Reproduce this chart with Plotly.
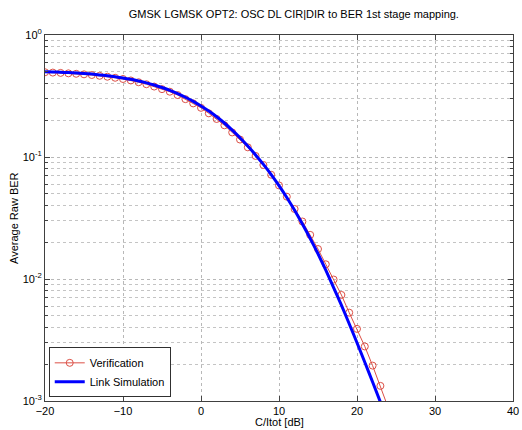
import plotly.graph_objects as go

# Verification data (C/Itot in dB, average raw BER)
ver_x = list(range(-20, 25))
ver_ber = [0.495, 0.492, 0.489, 0.485, 0.481, 0.476, 0.470, 0.463, 0.455, 0.446,
           0.436, 0.424, 0.410, 0.395, 0.378, 0.360, 0.343, 0.322, 0.298, 0.275,
           0.253, 0.228, 0.205, 0.182, 0.159, 0.139, 0.120, 0.102, 0.0860, 0.0715,
           0.0585, 0.0473, 0.0375, 0.0296, 0.0230, 0.0176, 0.0132, 0.0099, 0.0074, 0.0053,
           0.0039, 0.0028, 0.00195, 0.00133, 0.00088]

# Link simulation data
sim_x = list(range(-20, 24))
sim_ber = [0.500, 0.498, 0.495, 0.492, 0.488, 0.484, 0.478, 0.471, 0.463, 0.454,
           0.444, 0.433, 0.420, 0.405, 0.389, 0.371, 0.352, 0.331, 0.309, 0.286,
           0.262, 0.238, 0.214, 0.190, 0.166, 0.144, 0.123, 0.104, 0.0870, 0.0718,
           0.0583, 0.0466, 0.0366, 0.0282, 0.0215, 0.0161, 0.0118, 0.0085, 0.0061, 0.0043,
           0.0030, 0.00208, 0.00143, 0.00098]

x_ticks = [-20, -10, 0, 10, 20, 30, 40]
y_ticks = [1, 0.1, 0.01, 0.001]
y_tick_text = ["10<sup>0</sup>", "10<sup>-1</sup>", "10<sup>-2</sup>", "10<sup>-3</sup>"]
y_minor = [m * 10.0 ** e for e in (-3, -2, -1) for m in range(2, 10)]

fig = go.Figure()
fig.add_trace(go.Scatter(
    x=ver_x, y=ver_ber, name="Verification", mode="lines+markers",
    line=dict(color="rgb(220,80,70)", width=1),
    marker=dict(symbol="circle-open", size=7, color="rgb(220,80,70)", line=dict(width=1)),
))
fig.add_trace(go.Scatter(
    x=sim_x, y=sim_ber, name="Link Simulation", mode="lines",
    line=dict(color="#0000ff", width=3, shape="spline", smoothing=0.6),
))

font_family = "Liberation Sans, Arial, sans-serif"
fig.update_layout(
    width=522, height=430,
    margin=dict(l=45, r=9, t=35, b=29),
    paper_bgcolor="white", plot_bgcolor="white",
    font=dict(family=font_family, size=11, color="black"),
    title=dict(text="GMSK LGMSK OPT2: OSC DL CIR|DIR to BER 1st stage mapping.",
               x=0.563, xanchor="center", y=0.975, yanchor="top",
               font=dict(size=11)),
    showlegend=True,
    legend=dict(x=0.008, y=0.01, xanchor="left", yanchor="bottom",
                bgcolor="white", bordercolor="#303030", borderwidth=1,
                font=dict(size=11), tracegroupgap=0, itemwidth=30),
    annotations=[
        dict(text="C/Itot [dB]", xref="paper", yref="paper", x=0.5, y=0,
             xanchor="center", yanchor="middle", yshift=-21, showarrow=False,
             font=dict(size=11)),
        dict(text="Average Raw BER", xref="paper", yref="paper", x=0, y=0.5,
             xanchor="center", yanchor="middle", xshift=-31, textangle=-90,
             showarrow=False, font=dict(size=11)),
    ],
)
fig.update_xaxes(
    range=[-20, 40], tickvals=x_ticks, ticks="inside", ticklen=5,
    showline=True, linecolor="#404040", linewidth=1, mirror="ticks",
    showgrid=True, gridcolor="#b8b8b8", griddash="dot", gridwidth=1,
    zeroline=False, automargin=False,
)
fig.update_yaxes(
    type="log", range=[-3, 0], tickvals=y_ticks, ticktext=y_tick_text,
    ticks="inside", ticklen=5,
    showline=True, linecolor="#404040", linewidth=1, mirror="ticks",
    showgrid=True, gridcolor="#b8b8b8", griddash="dot", gridwidth=1,
    minor=dict(tickvals=y_minor, ticks="inside", ticklen=3, showgrid=True,
               gridcolor="#c4c4c4", griddash="dot", gridwidth=1),
    zeroline=False, automargin=False,
)

fig.write_html("out.html", config={"displayModeBar": False},
               post_script="document.body.style.margin='0';")
